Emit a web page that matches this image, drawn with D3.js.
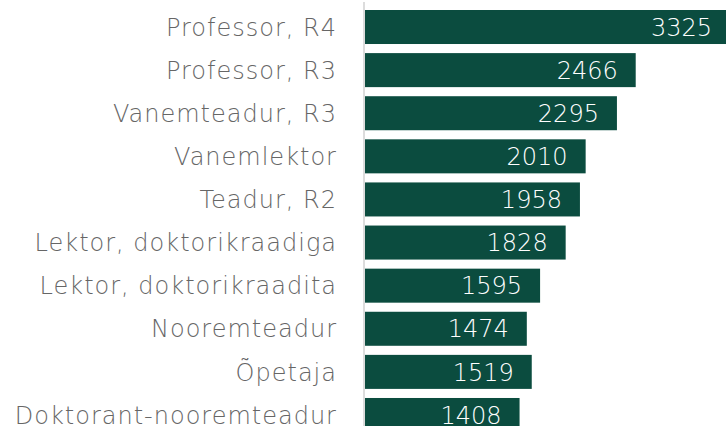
<!DOCTYPE html>
<html>
<head>
<meta charset="utf-8">
<script src="https://cdn.jsdelivr.net/npm/d3@7"></script>
<style>
  body { margin: 0; background: #fff; }
</style>
</head>
<body>
<div id="wrapper"></div>
<script>
const categories = [
  "Professor, R4",
  "Professor, R3",
  "Vanemteadur, R3",
  "Vanemlektor",
  "Teadur, R2",
  "Lektor, doktorikraadiga",
  "Lektor, doktorikraadita",
  "Nooremteadur",
  "Õpetaja",
  "Doktorant-nooremteadur"
]
const values = [3325, 2466, 2295, 2010, 1958, 1828, 1595, 1474, 1519, 1408]

const data = categories.map((c, i) => ({ label: c, value: values[i] }))

const dimensions = {
  width: 726,
  height: 426,
  axisX: 364,
  barLeft: 365,
  top: 10
}

const svg = d3.select("#wrapper").append("svg")
  .attr("width", dimensions.width)
  .attr("height", dimensions.height)

const x = d3.scaleLinear().domain([0, 3325]).range([dimensions.barLeft, 730])
const y = d3.scaleBand().domain(categories).range([dimensions.top, 432]).paddingInner(0.211)

// thin grey baseline
svg.append("line")
  .attr("x1", dimensions.axisX).attr("x2", dimensions.axisX)
  .attr("y1", 2).attr("y2", dimensions.height)
  .attr("stroke", "#dcdcdc")
  .attr("stroke-width", 2)

svg.selectAll("rect").data(data).enter()
  .append("rect")
  .attr("x", x(0))
  .attr("y", d => y(d.label))
  .attr("width", d => x(d.value) - x(0))
  .attr("height", y.bandwidth())
  .attr("fill", "#0b4c3f")

const font = "'DejaVu Sans', sans-serif"

svg.selectAll(".cat").data(data).enter()
  .append("text")
  .attr("class", "cat")
  .attr("x", dimensions.barLeft - 28)
  .attr("y", d => y(d.label) + y.bandwidth() / 2)
  .attr("dy", "0.36em")
  .attr("text-anchor", "end")
  .style("font-family", font)
  .style("font-weight", 200)
  .style("font-size", "24px")
  .style("letter-spacing", "1px")
  .style("fill", "#666")
  .text(d => d.label)

svg.selectAll(".val").data(data).enter()
  .append("text")
  .attr("class", "val")
  .attr("x", d => x(d.value) - 18)
  .attr("y", d => y(d.label) + y.bandwidth() / 2)
  .attr("dy", "0.36em")
  .attr("text-anchor", "end")
  .style("font-family", font)
  .style("font-weight", 200)
  .style("font-size", "24px")
  .style("fill", "#fff")
  .text(d => d.value)
</script>
</body>
</html>
